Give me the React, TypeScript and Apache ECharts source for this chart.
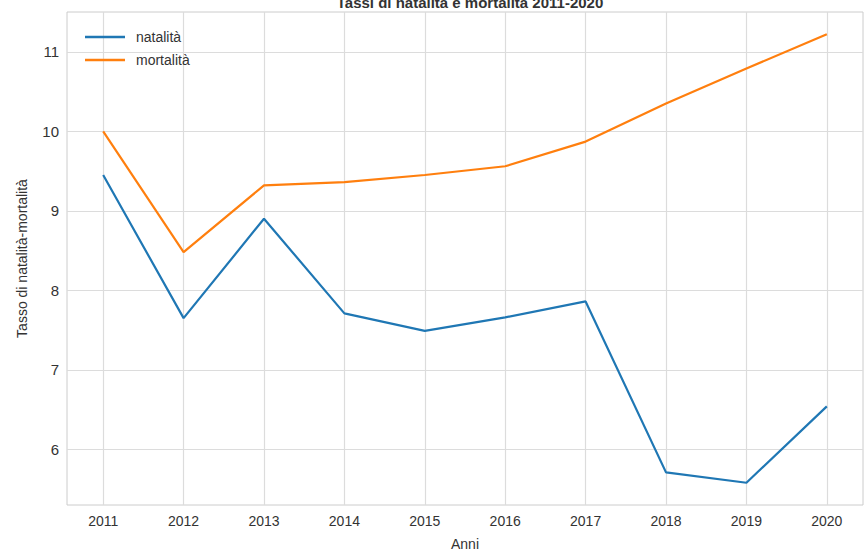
import React, { useEffect, useRef } from "react";
import * as echarts from "echarts";

const years = [2011, 2012, 2013, 2014, 2015, 2016, 2017, 2018, 2019, 2020];
const natalita = [9.45, 7.65, 8.9, 7.71, 7.49, 7.66, 7.86, 5.71, 5.58, 6.54];
const mortalita = [10.0, 8.48, 9.32, 9.36, 9.45, 9.56, 9.87, 10.35, 10.79, 11.22];
const yTicks = [6, 7, 8, 9, 10, 11];

const FONT = "Liberation Sans, Arial, sans-serif";
const ICON = "path://M0,0 L38,0 L38,2.2 L0,2.2 Z";

export default function App() {
  const ref = useRef<HTMLDivElement>(null);
  useEffect(() => {
    if (!ref.current) return;
    const chart = echarts.init(ref.current, null, { renderer: "svg" });
    const grid = "#dcdcdc";
    chart.setOption({
      animation: false,
      backgroundColor: "#ffffff",
      title: {
        text: "Tassi di natalità e mortalità 2011-2020",
        left: 465,
        top: -10,
        textAlign: "center",
        textStyle: { fontFamily: FONT, fontSize: 15, fontWeight: "bold", color: "#333" },
      },
      legend: {
        left: 80,
        top: 25,
        orient: "vertical",
        itemGap: 9,
        itemWidth: 40,
        itemHeight: 17,
        textStyle: { fontFamily: FONT, fontSize: 14, color: "#333", padding: [0, 0, 0, 6] },
        data: [
          { name: "natalità", icon: ICON },
          { name: "mortalità", icon: ICON },
        ],
      },
      grid: { left: 67, right: 5, top: 12, bottom: 49, containLabel: false, show: true, borderColor: "#cccccc", borderWidth: 1 },
      xAxis: {
        type: "value",
        min: 2010.55,
        max: 2020.45,
        name: "Anni",
        nameLocation: "middle",
        nameGap: 32,
        nameTextStyle: { fontFamily: FONT, fontSize: 14, color: "#333" },
        axisLine: { show: false },
        axisTick: { show: false, customValues: years },
        axisLabel: {
          customValues: years,
          fontFamily: FONT,
          fontSize: 14,
          color: "#333",
          margin: 9,
          formatter: (v: number) => String(v),
        },
        splitLine: { show: true, lineStyle: { color: grid, width: 1.2 } },
      },
      yAxis: {
        type: "value",
        min: 5.3,
        max: 11.5,
        name: "Tasso di natalità-mortalità",
        nameLocation: "middle",
        nameGap: 38,
        nameTextStyle: { fontFamily: FONT, fontSize: 14, color: "#333" },
        axisLine: { show: false },
        axisTick: { show: false, customValues: yTicks },
        axisLabel: {
          customValues: yTicks,
          fontFamily: FONT,
          fontSize: 15,
          color: "#333",
          margin: 8,
          formatter: (v: number) => String(v),
        },
        splitLine: { show: true, lineStyle: { color: grid, width: 1.2 } },
      },
      series: [
        {
          name: "natalità",
          type: "line",
          data: years.map((y, i) => [y, natalita[i]]),
          showSymbol: false,
          symbol: "none",
          lineStyle: { color: "#1f77b4", width: 2.2 },
          itemStyle: { color: "#1f77b4" },
        },
        {
          name: "mortalità",
          type: "line",
          data: years.map((y, i) => [y, mortalita[i]]),
          showSymbol: false,
          symbol: "none",
          lineStyle: { color: "#ff7f0e", width: 2.2 },
          itemStyle: { color: "#ff7f0e" },
        },
      ],
    });
    return () => chart.dispose();
  }, []);
  return <div ref={ref} style={{ width: 868, height: 556, position: "absolute", left: 0, top: 0 }} />;
}
